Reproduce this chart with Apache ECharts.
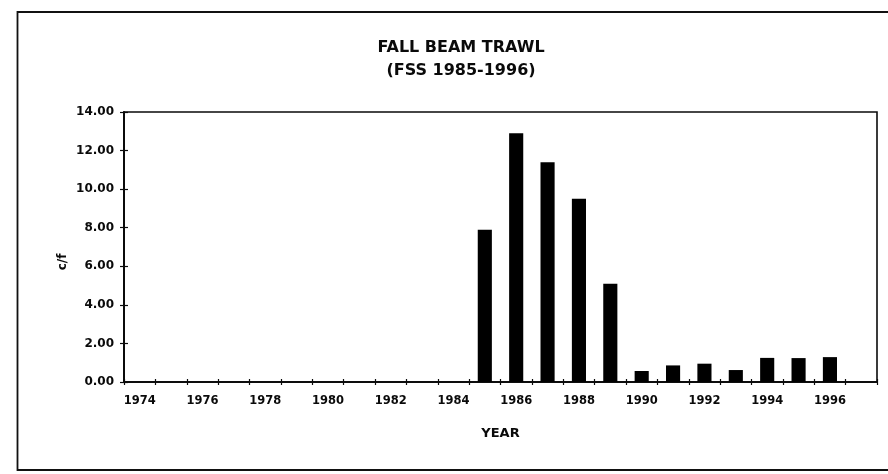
<!DOCTYPE html>
<html>
<head>
<meta charset="utf-8">
<script src="https://cdn.jsdelivr.net/npm/echarts@6/dist/echarts.min.js"></script>
<style>
  html, body { margin: 0; padding: 0; background: #ffffff; }
  #chart { width: 888px; height: 474px; }
</style>
</head>
<body>
<div id="chart"></div>
<script>
// ---- data ----
var titleLines = ['FALL BEAM TRAWL', '(FSS 1985-1996)'];
var years = ['1974','1975','1976','1977','1978','1979','1980','1981','1982','1983','1984',
             '1985','1986','1987','1988','1989','1990','1991','1992','1993','1994','1995','1996','1997'];
var cf = [0,0,0,0,0,0,0,0,0,0,0,
          7.9,12.9,11.4,9.5,5.1,0.57,0.86,0.95,0.62,1.25,1.24,1.29,null];
var yTicks = { min: 0, max: 14, interval: 2 };
var xName = 'YEAR';
var yName = 'c/f';

var FONT = '"DejaVu Sans", Arial, sans-serif';
var INK = '#0a0a0a';

var chart = echarts.init(document.getElementById('chart'), null, { renderer: 'canvas' });

var gridBox = { left: 124, right: 11, top: 112, bottom: 92 };

function xAxisBase(inside, show) {
  return {
    type: 'category',
    data: years,
    position: 'bottom',
    boundaryGap: true,
    axisLine: { show: true, lineStyle: { color: INK, width: 1.6 } },
    axisTick: { show: true, inside: inside, length: 3, interval: 0, lineStyle: { color: INK, width: 1.2 } },
    axisLabel: show ? {
      show: true, interval: 1, margin: 13,
      fontFamily: FONT, fontWeight: 'bold', fontSize: 11.5, color: INK
    } : { show: false },
    splitLine: { show: false }
  };
}

function yAxisBase(inside, show) {
  return {
    type: 'value',
    min: yTicks.min, max: yTicks.max, interval: yTicks.interval,
    position: 'left',
    axisLine: { show: true, lineStyle: { color: INK, width: 1.6 } },
    axisTick: { show: true, inside: inside, length: 4, lineStyle: { color: INK, width: 1.2 } },
    axisLabel: show ? {
      show: true, margin: 10,
      fontFamily: FONT, fontWeight: 'bold', fontSize: 12, color: INK,
      formatter: function (v) { return v.toFixed(2); }
    } : { show: false },
    splitLine: { show: false }
  };
}

var xMain = xAxisBase(false, true);
xMain.name = xName;
xMain.nameLocation = 'middle';
xMain.nameGap = 45;
xMain.nameTextStyle = { fontFamily: FONT, fontWeight: 'bold', fontSize: 13, color: INK };

var option = {
  backgroundColor: '#ffffff',
  animation: false,
  title: {
    text: titleLines.join('\n'),
    left: 456,
    top: 32,
    textAlign: 'center',
    textStyle: { fontFamily: FONT, fontWeight: 'bold', fontSize: 16, color: INK, lineHeight: 22.5 }
  },
  grid: {
    left: gridBox.left, right: gridBox.right, top: gridBox.top, bottom: gridBox.bottom,
    show: true, borderColor: INK, borderWidth: 1.6, backgroundColor: 'transparent'
  },
  xAxis: [xMain, xAxisBase(true, false)],
  yAxis: [yAxisBase(false, true), yAxisBase(true, false)],
  graphic: [
    {
      type: 'rect',
      shape: { x: 17.5, y: 12, width: 900, height: 458 },
      style: { fill: 'none', stroke: '#111111', lineWidth: 1.8 },
      silent: true
    },
    {
      type: 'text',
      x: 63, y: 262,
      rotation: Math.PI / 2,
      style: {
        text: yName, fill: INK,
        font: 'bold 12px ' + FONT,
        textAlign: 'center', textVerticalAlign: 'middle'
      }
    }
  ],
  series: [{
    type: 'bar',
    xAxisIndex: 0,
    yAxisIndex: 0,
    data: cf,
    barWidth: '45%',
    itemStyle: { color: '#000000' }
  }]
};

chart.setOption(option);
</script>
</body>
</html>
